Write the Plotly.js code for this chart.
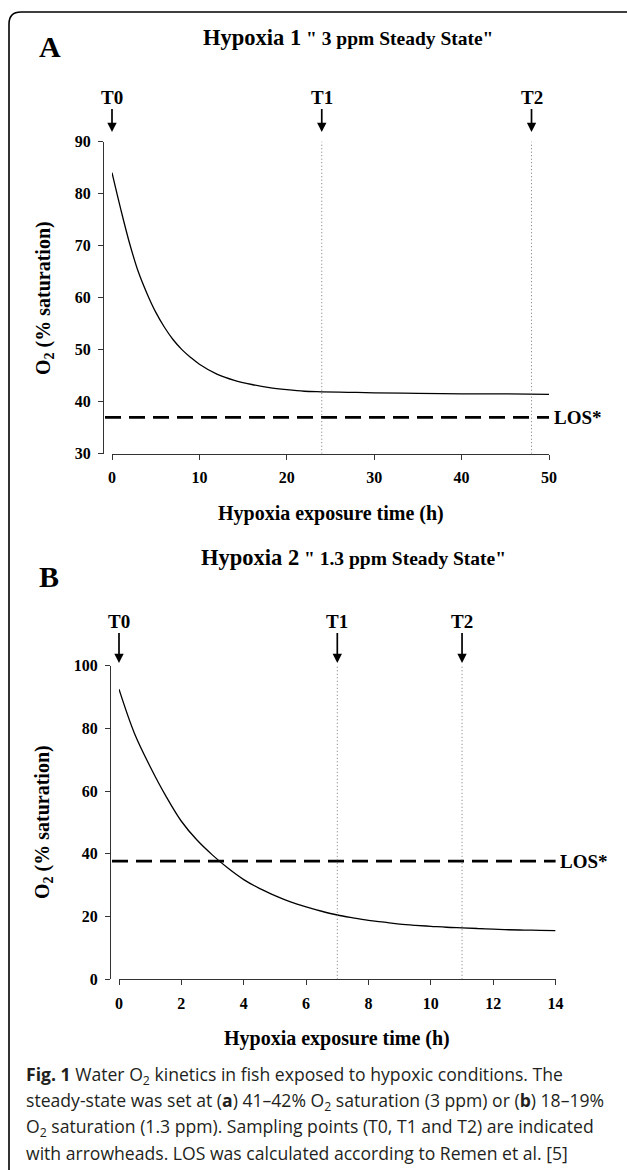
<!DOCTYPE html>
<html>
<head>
<meta charset="utf-8">
<script src="https://cdn.plot.ly/plotly-3.0.1.min.js"></script>
<style>html,body{margin:0;padding:0;background:#fff;}#chart{width:627px;height:1170px;}</style>
</head>
<body>
<div id="chart"></div>
<script>
// ---- data ----
const timeA = [0,1,2,3,4,5,6,7,8,9,10,12,14,16,18,20,22,24,27,30,35,40,45,50];
const o2A   = [84,77,70.5,65,60.8,57.2,54.3,51.9,50.0,48.5,47.2,45.3,44.1,43.3,42.7,42.3,42.0,41.9,41.8,41.7,41.6,41.5,41.5,41.4];
const timeB = [0,0.5,1,1.5,2,2.5,3,3.5,4,4.5,5,5.5,6,6.5,7,7.5,8,8.5,9,9.5,10,10.5,11,11.5,12,12.5,13,13.5,14];
const o2B   = [92.5,78.3,67.8,58.5,50.4,44.4,39.6,35.4,31.8,29.0,26.7,24.7,23.1,21.7,20.5,19.6,18.8,18.2,17.6,17.2,16.9,16.6,16.4,16.2,16.0,15.8,15.7,15.6,15.5];
const losA = 37.0;
const losB = 37.7;
const sampleLabels = ['T0','T1','T2'];
const sampleTimesA = [0,24,48];
const sampleTimesB = [0,7,11];
const xTicksA = [0,10,20,30,40,50];
const yTicksA = [30,40,50,60,70,80,90];
const xTicksB = [0,2,4,6,8,10,12,14];
const yTicksB = [0,20,40,60,80,100];
const titleA = 'Hypoxia 1<span style="font-size:19.5px"> " 3 ppm Steady State"</span>';
const titleB = 'Hypoxia 2<span style="font-size:19.5px"> " 1.3 ppm Steady State"</span>';
const xTitle = 'Hypoxia exposure time (h)';
const yTitle = 'O<sub>2</sub> (% saturation)';
const caption = [
  '<b>Fig. 1</b> Water O<sub>2</sub> kinetics in fish exposed to hypoxic conditions. The',
  'steady-state was set at (<b>a</b>) 41–42% O<sub>2</sub> saturation (3 ppm) or (<b>b</b>) 18–19%',
  'O<sub>2</sub> saturation (1.3 ppm). Sampling points (T0, T1 and T2) are indicated',
  'with arrowheads. LOS was calculated according to Remen et al. [5]'
];

// ---- layout helpers (pixel -> paper) ----
const W = 627, H = 1170;
const px = v => v / W;
const py = v => 1 - v / H;
const SERIF = 'Liberation Serif, Times New Roman, serif';

const tickFont = {family: SERIF, size: 16, color: '#000', weight: 'bold'};
function xAxis(domain, ticks, range, anchor) {
  return {domain, range, anchor, tickvals: ticks, ticktext: ticks.map(String),
    showline: true, linecolor: '#333', linewidth: 1, ticks: 'outside', ticklen: 5,
    tickcolor: '#333', tickwidth: 1, showgrid: false, zeroline: false,
    tickfont: tickFont, ticklabelstandoff: 4, fixedrange: true};
}
function yAxis(domain, ticks, range, pos) {
  return {domain, range, anchor: 'free', position: pos, tickvals: ticks, ticktext: ticks.map(String),
    showline: true, linecolor: '#333', linewidth: 1, ticks: 'outside', ticklen: 5,
    tickcolor: '#333', tickwidth: 1, showgrid: false, zeroline: false,
    tickfont: tickFont, ticklabelstandoff: 4, fixedrange: true};
}

const panels = [
  {xa: 'x', ya: 'y', t: timeA, v: o2A, los: losA, samples: sampleTimesA,
   xdom: [px(112), px(549)], ydom: [py(453.7), py(141.5)], yPos: px(103),
   xr: [xTicksA[0], xTicksA[xTicksA.length-1]], yr: [yTicksA[0], yTicksA[yTicksA.length-1]],
   xt: xTicksA, yt: yTicksA, title: titleA, letter: 'A',
   letterXY: [50, 47], titleXY: [348, 37], xTitleXY: [331, 513], yTitleXY: [44, 298],
   losLabelX: 552, arrowTipPx: 132, labelPx: 97},
  {xa: 'x2', ya: 'y2', t: timeB, v: o2B, los: losB, samples: sampleTimesB,
   xdom: [px(119), px(555.6)], ydom: [py(979.3), py(665.7)], yPos: px(110),
   xr: [xTicksB[0], xTicksB[xTicksB.length-1]], yr: [yTicksB[0], yTicksB[yTicksB.length-1]],
   xt: xTicksB, yt: yTicksB, title: titleB, letter: 'B',
   letterXY: [49, 576], titleXY: [353, 557], xTitleXY: [337, 1038], yTitleXY: [44, 822],
   losLabelX: 558, arrowTipPx: 663, labelPx: 621}
];

const traces = [];
const shapes = [];
const annotations = [];
const layout = {width: W, height: H, margin: {l: 0, r: 0, t: 0, b: 0},
  paper_bgcolor: '#fff', plot_bgcolor: 'rgba(0,0,0,0)', showlegend: false};

function label(x, y, text, size, extra) {
  return Object.assign({xref: 'paper', yref: 'paper', x: px(x), y: py(y), xanchor: 'center', yanchor: 'middle',
    text, showarrow: false, font: {family: SERIF, size, color: '#000'}}, extra || {});
}

panels.forEach((p, i) => {
  const xk = i === 0 ? 'xaxis' : 'xaxis2';
  const yk = i === 0 ? 'yaxis' : 'yaxis2';
  layout[xk] = xAxis(p.xdom, p.xt, p.xr, p.ya);
  layout[yk] = yAxis(p.ydom, p.yt, p.yr, p.yPos);

  traces.push({x: p.t, y: p.v, xaxis: p.xa, yaxis: p.ya, type: 'scatter', mode: 'lines',
    line: {color: '#000', width: 1.3, shape: 'spline', smoothing: 1}, hoverinfo: 'skip'});

  // LOS dashed line from the y axis to the end of x axis
  shapes.push({type: 'line', xref: 'paper', yref: p.ya, x0: p.yPos + px(2), x1: p.xdom[1],
    y0: p.los, y1: p.los, line: {color: '#000', width: 2.7, dash: '16px,8px'}});
  annotations.push({xref: 'paper', yref: p.ya, x: px(p.losLabelX), y: p.los, xanchor: 'left', yanchor: 'middle',
    text: '<b>LOS*</b>', showarrow: false, font: {family: SERIF, size: 19, color: '#000'}});

  // sampling points: dotted verticals + arrows with labels
  p.samples.forEach((ts, k) => {
    if (k > 0) {
      shapes.push({type: 'line', xref: p.xa, yref: p.ya, x0: ts, x1: ts, y0: p.yr[0], y1: p.yr[1],
        line: {color: '#777', width: 1, dash: '1px,2.5px'}});
    }
    annotations.push({xref: p.xa, yref: 'paper', x: ts, y: py(p.arrowTipPx),
      ax: 0, ay: p.labelPx - p.arrowTipPx, text: '<b>' + sampleLabels[k] + '</b>',
      showarrow: true, arrowhead: 2, arrowsize: 1.1, arrowwidth: 1.7, arrowcolor: '#000',
      standoff: 0, font: {family: SERIF, size: 19, color: '#000'}});
  });

  annotations.push(label(p.letterXY[0], p.letterXY[1], '<b>' + p.letter + '</b>', 30));
  annotations.push(label(p.titleXY[0], p.titleXY[1], '<b>' + p.title + '</b>', 22.5));
  annotations.push(label(p.xTitleXY[0], p.xTitleXY[1], '<b>' + xTitle + '</b>', 20));
  annotations.push(label(p.yTitleXY[0], p.yTitleXY[1], '<b>' + yTitle + '</b>', 20, {textangle: -90}));
});

const capY = [1075, 1101, 1127, 1153];
caption.forEach((line, k) => {
  annotations.push({xref: 'paper', yref: 'paper', x: px(24), y: py(capY[k]), xanchor: 'left', yanchor: 'middle',
    text: line, showarrow: false, font: {family: 'Open Sans, Noto Sans, sans-serif', size: 17.6, color: '#231f20'}});
});

// rounded frame (top-left corner visible, right/bottom run off the page)
shapes.push({type: 'path', xref: 'paper', yref: 'paper',
  path: `M ${px(9)},${py(1180)} L ${px(9)},${py(24)} Q ${px(9)},${py(12)} ${px(21)},${py(12)} L ${px(640)},${py(12)}`,
  line: {color: '#000', width: 1.6}});

layout.shapes = shapes;
layout.annotations = annotations;

Plotly.newPlot('chart', traces, layout, {staticPlot: true, displayModeBar: false});
</script>
</body>
</html>
